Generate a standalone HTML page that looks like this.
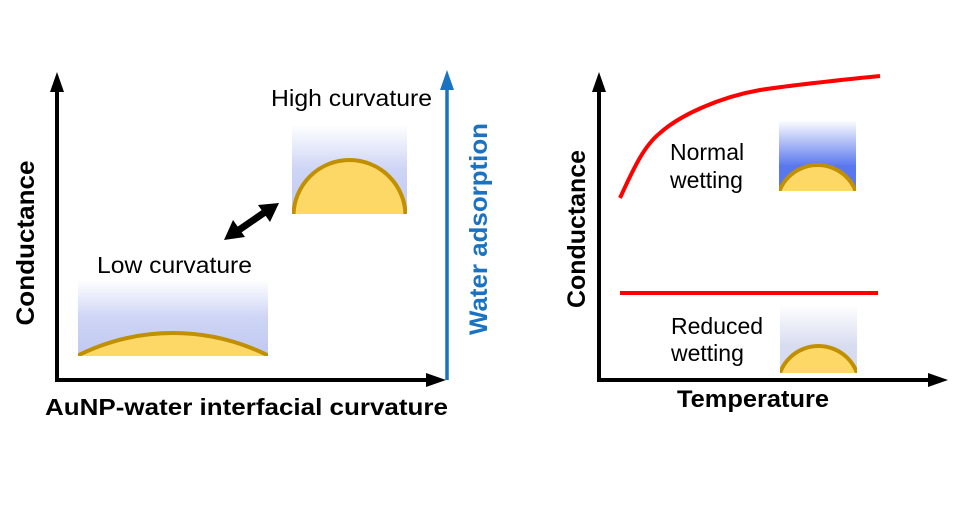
<!DOCTYPE html>
<html><head><style>html,body{margin:0;padding:0;background:#fff;overflow:hidden;width:975px;height:525px}svg{display:block;position:absolute;left:0;top:0}</style></head><body>
<svg width="975" height="525" viewBox="0 0 975 525" font-family="Liberation Sans, sans-serif">
<defs>
<linearGradient id="gl" x1="0" y1="0" x2="0" y2="1"><stop offset="0" stop-color="#c8d0f4" stop-opacity="0"/><stop offset="0.5" stop-color="#c8d0f4" stop-opacity="0.9"/><stop offset="1" stop-color="#c0c8f2"/></linearGradient>
<linearGradient id="gn" x1="0" y1="0" x2="0" y2="1"><stop offset="0" stop-color="#5a78ee" stop-opacity="0"/><stop offset="0.65" stop-color="#5a78ee"/><stop offset="1" stop-color="#5a78ee"/></linearGradient>
<linearGradient id="gr" x1="0" y1="0" x2="0" y2="1"><stop offset="0" stop-color="#d8dcf0" stop-opacity="0"/><stop offset="0.6" stop-color="#d8dcf0"/><stop offset="1" stop-color="#d4d9ee"/></linearGradient>
<clipPath id="c1"><rect x="78" y="280" width="190" height="76"/></clipPath>
<clipPath id="c2"><rect x="292" y="125" width="115" height="89"/></clipPath>
<clipPath id="c3"><rect x="779" y="120" width="77" height="71"/></clipPath>
<clipPath id="c4"><rect x="780" y="305" width="77" height="68"/></clipPath>
</defs>
<line x1="57" y1="380" x2="57" y2="88" stroke="#000" stroke-width="4"/>
<polygon points="57,72 50,92 64,92" fill="#000"/>
<line x1="55" y1="380" x2="430" y2="380" stroke="#000" stroke-width="4"/>
<polygon points="446,380 426,373 426,387" fill="#000"/>
<line x1="447" y1="380" x2="447" y2="86" stroke="#1a72c2" stroke-width="3.5"/>
<polygon points="447,70 440,90 454,90" fill="#1a72c2"/>
<g clip-path="url(#c1)"><rect x="78" y="280" width="190" height="76" fill="url(#gl)"/>
<circle cx="173" cy="545" r="212" fill="#fdd866" stroke="#c09000" stroke-width="4"/></g>
<g clip-path="url(#c2)"><rect x="292" y="125" width="115" height="89" fill="url(#gl)"/>
<circle cx="349.5" cy="216" r="56" fill="#fdd866" stroke="#c09000" stroke-width="4"/></g>
<line x1="236" y1="232" x2="268" y2="210" stroke="#000" stroke-width="7"/>
<polygon points="224,240 233,220 245,237" fill="#000"/>
<polygon points="279,203 258,205 270,222" fill="#000"/>
<text x="271" y="106" font-size="23" textLength="161" lengthAdjust="spacingAndGlyphs">High curvature</text>
<text x="97" y="273" font-size="23" textLength="155" lengthAdjust="spacingAndGlyphs">Low curvature</text>
<text x="45" y="415" font-size="23" font-weight="bold" textLength="403" lengthAdjust="spacingAndGlyphs">AuNP-water  interfacial  curvature</text>
<text transform="translate(34,243) rotate(-90)" font-size="25" font-weight="bold" text-anchor="middle" textLength="165" lengthAdjust="spacingAndGlyphs">Conductance</text>
<text transform="translate(487,229) rotate(-90)" font-size="25" font-weight="bold" fill="#1a72c2" text-anchor="middle" textLength="212" lengthAdjust="spacingAndGlyphs">Water adsorption</text>
<line x1="599" y1="380" x2="599" y2="88" stroke="#000" stroke-width="4"/>
<polygon points="599,72 592,92 606,92" fill="#000"/>
<line x1="597" y1="380" x2="932" y2="380" stroke="#000" stroke-width="4"/>
<polygon points="948,380 928,373 928,387" fill="#000"/>
<path d="M620,198 C635,165 645,145 660,133 C680,115 720,97 760,90 C800,84 840,80 880,76" fill="none" stroke="#f00" stroke-width="4"/>
<line x1="620" y1="293" x2="878" y2="293" stroke="#f00" stroke-width="4"/>
<g clip-path="url(#c3)"><rect x="779" y="120" width="77" height="71" fill="url(#gn)"/>
<circle cx="817.5" cy="206" r="41" fill="#fdd866" stroke="#c09000" stroke-width="4"/></g>
<g clip-path="url(#c4)"><rect x="780" y="305" width="77" height="68" fill="url(#gr)"/>
<circle cx="818.5" cy="387" r="41" fill="#fdd866" stroke="#c09000" stroke-width="4"/></g>
<text x="670" y="160" font-size="23">Normal</text>
<text x="670" y="188" font-size="23">wetting</text>
<text x="671" y="334" font-size="23">Reduced</text>
<text x="671" y="361" font-size="23">wetting</text>
<text x="677" y="407" font-size="24" font-weight="bold" textLength="152" lengthAdjust="spacingAndGlyphs">Temperature</text>
<text transform="translate(585,229) rotate(-90)" font-size="25" font-weight="bold" text-anchor="middle" textLength="158" lengthAdjust="spacingAndGlyphs">Conductance</text>
</svg>
</body></html>
